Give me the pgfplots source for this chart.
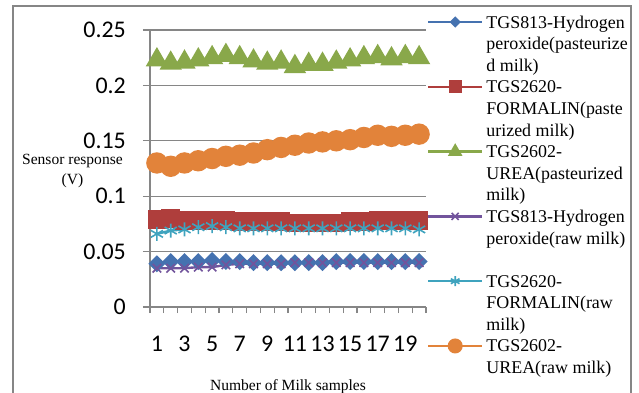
\documentclass[border=0pt]{standalone}
\usepackage{pgfplots}
\pgfplotsset{compat=1.18}
\usepackage{fontspec}
\setmainfont{Liberation Serif}
\newfontfamily\carlito{Carlito}
\definecolor{gridgray}{RGB}{134,134,134}
\definecolor{sblue}{RGB}{69,114,176}
\definecolor{sred}{RGB}{175,62,60}
\definecolor{sgreen}{RGB}{137,168,74}
\definecolor{spurple}{RGB}{114,84,156}
\definecolor{scyan}{RGB}{63,163,190}
\definecolor{sorange}{RGB}{226,131,58}
\newcommand\LegText[3]{\raisebox{49.9bp}[63.3bp][0pt]{\begin{tabular}[t]{@{}l@{}}\strut#1\\#2\\#3\strut\end{tabular}}}
\begin{document}
\begin{tikzpicture}
\useasboundingbox (0,0) rectangle (639bp,393bp);
\draw[gridgray, line width=1.6bp] (13bp,0) -- (13bp,387bp) -- (631bp,387bp) -- (631bp,0);
\begin{axis}[
  at={(150bp,86bp)}, anchor=south west,
  width=276bp, height=277bp, scale only axis,
  xmin=0.5, xmax=20.5, ymin=0, ymax=0.25,
  clip=false,
  axis lines*=left,
  axis line style={draw=gridgray, line width=1.3bp},
  ytick={0,0.05,0.1,0.15,0.2,0.25},
  yticklabels={0,0.05,0.1,0.15,0.2,0.25},
  scaled y ticks=false,
  ymajorgrids,
  grid style={gridgray, line width=1.3bp},
  xtick={1,3,5,7,9,11,13,15,17,19},
  xticklabels={1,3,5,7,9,11,13,15,17,19},
  minor xtick={0.5,1.5,...,20.5},
  tick align=outside,
  major tick length=7bp,
  minor tick length=6bp,
  tick style={gridgray, line width=1.3bp},
  major x tick style={draw=none},
  /pgf/number format/assume math mode=true,
  xticklabel style={font=\carlito\fontsize{24}{28}\selectfont, inner sep=0pt, anchor=north, yshift=-22bp},
  yticklabel style={font=\carlito\fontsize{24}{28}\selectfont, inner sep=0pt, anchor=east, xshift=-17bp},
  every axis x label/.style={at={(axis description cs:0.5,-0.287)}, anchor=center, font=\fontsize{15.6}{20}\selectfont},
  every axis y label/.style={at={(axis description cs:-0.281,0.491)}, anchor=center, align=center, font=\fontsize{15.6}{20}\selectfont},
  xlabel={Number of Milk samples},
  ylabel={Sensor response\\(V)},
  legend style={draw=none, fill=none, inner sep=0pt, outer sep=0pt,
    at={(axis description cs:1,1)}, anchor=north west, xshift=1bp, yshift=15.4bp,
    column sep=3bp, row sep=0pt,
    font=\fontsize{18}{21.7}\selectfont,
    nodes={inner sep=0pt},
    cells={anchor=base west}},
  legend image code/.code={\draw[mark repeat=2,mark phase=2,#1] plot coordinates {(0bp,55.9bp) (27bp,55.9bp) (54bp,55.9bp)};},
  every axis plot/.append style={line width=2.4bp},
]
\addplot[color=sblue, mark=square*, mark size=4.8bp, mark options={rotate=45, solid}, legend image post style={mark size=2.8bp}] coordinates {
(1,0.039) (2,0.041) (3,0.041) (4,0.041) (5,0.042) (6,0.041) (7,0.041) (8,0.040) (9,0.040) (10,0.040)
(11,0.040) (12,0.040) (13,0.040) (14,0.041) (15,0.041) (16,0.041) (17,0.041) (18,0.041) (19,0.041) (20,0.041)};
\addlegendentry{\LegText{TGS813-Hydrogen}{peroxide(pasteurize}{d milk)}}
\addplot[color=sred, mark=square*, mark size=8bp, legend image post style={mark size=5.5bp}] coordinates {
(1,0.079) (2,0.080) (3,0.078) (4,0.078) (5,0.078) (6,0.078) (7,0.077) (8,0.077) (9,0.077) (10,0.077)
(11,0.076) (12,0.076) (13,0.076) (14,0.076) (15,0.077) (16,0.077) (17,0.078) (18,0.078) (19,0.078) (20,0.078)};
\addlegendentry{\LegText{TGS2620-}{FORMALIN(paste}{urized milk)}}
\addplot[color=sgreen, mark=triangle*, mark size=10.5bp, legend image post style={mark size=6bp}] coordinates {
(1,0.223) (2,0.220) (3,0.221) (4,0.223) (5,0.225) (6,0.227) (7,0.225) (8,0.222) (9,0.220) (10,0.221)
(11,0.217) (12,0.219) (13,0.219) (14,0.221) (15,0.223) (16,0.225) (17,0.226) (18,0.224) (19,0.226) (20,0.225)};
\addlegendentry{\LegText{TGS2602-}{UREA(pasteurized}{milk)}}
\addplot[color=spurple, mark=x, mark size=6bp, mark options={line width=1.6bp}, legend image post style={mark size=5bp}] coordinates {
(1,0.035) (2,0.035) (3,0.035) (4,0.036) (5,0.036) (6,0.038) (7,0.039) (8,0.039) (9,0.039) (10,0.039)
(11,0.040) (12,0.040) (13,0.040) (14,0.040) (15,0.040) (16,0.040) (17,0.040) (18,0.040) (19,0.040) (20,0.040)};
\addlegendentry{\LegText{TGS813-Hydrogen}{peroxide(raw milk)}{}}
\addplot[color=scyan, mark=asterisk, mark size=7bp, mark options={line width=1.6bp}, legend image post style={mark size=5bp}] coordinates {
(1,0.066) (2,0.069) (3,0.070) (4,0.072) (5,0.073) (6,0.072) (7,0.071) (8,0.071) (9,0.071) (10,0.071)
(11,0.071) (12,0.071) (13,0.071) (14,0.071) (15,0.071) (16,0.071) (17,0.071) (18,0.071) (19,0.071) (20,0.070)};
\addlegendentry{\LegText{TGS2620-}{FORMALIN(raw}{milk)}}
\addplot[color=sorange, mark=*, mark size=9.5bp, legend image post style={mark size=6.3bp}] coordinates {
(1,0.130) (2,0.127) (3,0.130) (4,0.132) (5,0.134) (6,0.136) (7,0.137) (8,0.139) (9,0.142) (10,0.144)
(11,0.146) (12,0.148) (13,0.149) (14,0.150) (15,0.151) (16,0.153) (17,0.155) (18,0.154) (19,0.155) (20,0.156)};
\addlegendentry{\LegText{TGS2602-}{UREA(raw milk)}{}}
\end{axis}
\end{tikzpicture}
\end{document}
